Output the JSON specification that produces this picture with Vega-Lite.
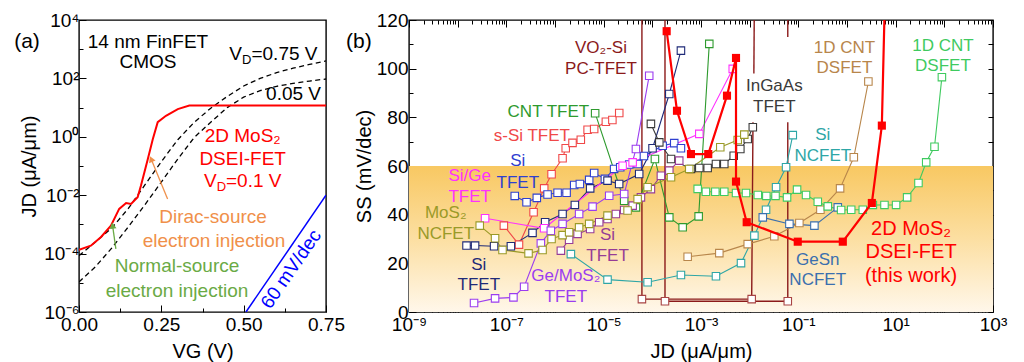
{
 "$schema": "https://vega.github.io/schema/vega-lite/v6.json",
 "background": "white",
 "padding": {"left": 13, "top": 10, "right": 5, "bottom": 5},
 "bounds": "flush",
 "spacing": 83,
 "resolve": {"scale": {"color": "independent"}},
 "config": {
  "font": "Liberation Sans",
  "view": {"stroke": "#000000", "strokeWidth": 1.4},
  "axis": {"domain": false, "grid": false, "tickColor": "#000000", "tickWidth": 1, "labelFont": "Liberation Sans", "labelFontSize": 19, "labelColor": "#000000", "titleFont": "Liberation Sans", "titleFontSize": 20, "titleFontWeight": "normal", "titleColor": "#000000", "labelFlush": false, "labelOverlap": false, "labelBound": false},
  "text": {"font": "Liberation Sans"}
 },
 "datasets": {
  "curvesA": [
   {"c":"DSEI-FET","x":0,"y":1.35e-4},{"c":"DSEI-FET","x":0.036,"y":1.86e-4},{"c":"DSEI-FET","x":0.067,"y":3.7e-4},{"c":"DSEI-FET","x":0.097,"y":9.1e-4},{"c":"DSEI-FET","x":0.122,"y":3.4e-3},{"c":"DSEI-FET","x":0.143,"y":5.4e-3},{"c":"DSEI-FET","x":0.158,"y":5.0e-3},{"c":"DSEI-FET","x":0.178,"y":8.5e-3},{"c":"DSEI-FET","x":0.188,"y":2.1e-2},{"c":"DSEI-FET","x":0.209,"y":0.174},{"c":"DSEI-FET","x":0.224,"y":0.83},{"c":"DSEI-FET","x":0.239,"y":3.16},{"c":"DSEI-FET","x":0.264,"y":5.25},{"c":"DSEI-FET","x":0.30,"y":8.9},{"c":"DSEI-FET","x":0.335,"y":11.7},{"c":"DSEI-FET","x":0.75,"y":11.7},
   {"c":"VD=0.75 V","x":0,"y":8.5e-5},{"c":"VD=0.75 V","x":0.05,"y":2.51e-4},{"c":"VD=0.75 V","x":0.1,"y":7.59e-4},{"c":"VD=0.75 V","x":0.15,"y":3.55e-3},{"c":"VD=0.75 V","x":0.2,"y":2.24e-2},{"c":"VD=0.75 V","x":0.25,"y":0.141},{"c":"VD=0.75 V","x":0.3,"y":0.794},{"c":"VD=0.75 V","x":0.35,"y":3.16},{"c":"VD=0.75 V","x":0.4,"y":9.55},{"c":"VD=0.75 V","x":0.45,"y":24.0},{"c":"VD=0.75 V","x":0.5,"y":55.0},{"c":"VD=0.75 V","x":0.55,"y":100},{"c":"VD=0.75 V","x":0.6,"y":158},{"c":"VD=0.75 V","x":0.65,"y":224},{"c":"VD=0.75 V","x":0.7,"y":302},{"c":"VD=0.75 V","x":0.75,"y":398},
   {"c":"VD=0.05 V","x":0,"y":1.07e-5},{"c":"VD=0.05 V","x":0.05,"y":3.55e-5},{"c":"VD=0.05 V","x":0.1,"y":1.58e-4},{"c":"VD=0.05 V","x":0.15,"y":8.3e-4},{"c":"VD=0.05 V","x":0.2,"y":4.68e-3},{"c":"VD=0.05 V","x":0.25,"y":2.82e-2},{"c":"VD=0.05 V","x":0.3,"y":0.174},{"c":"VD=0.05 V","x":0.35,"y":0.955},{"c":"VD=0.05 V","x":0.4,"y":3.16},{"c":"VD=0.05 V","x":0.45,"y":10},{"c":"VD=0.05 V","x":0.5,"y":22.9},{"c":"VD=0.05 V","x":0.55,"y":38},{"c":"VD=0.05 V","x":0.6,"y":53.7},{"c":"VD=0.05 V","x":0.65,"y":67.6},{"c":"VD=0.05 V","x":0.7,"y":81.3},{"c":"VD=0.05 V","x":0.75,"y":95.5},
   {"c":"60 mV/dec","x":0.507,"y":1e-6},{"c":"60 mV/dec","x":0.75,"y":1e-2}
  ],
  "arrowsA": [
   {"c":"Normal-source","o":1,"x":0.112,"y":1.45e-4},{"c":"Normal-source","o":2,"x":0.102,"y":9.1e-4},
   {"c":"Dirac-source","o":1,"x":0.269,"y":7.4e-3},{"c":"Dirac-source","o":2,"x":0.219,"y":0.174}
  ],
  "textA": [
   {"k":"CMOS","t":"14 nm FinFET","x":0.2095,"y":1778},
   {"k":"CMOS","t":"CMOS","x":0.2095,"y":363},
   {"k":"CMOS","t":"0.05 V","x":0.6514,"y":29.2},
   {"k":"DSEI-FET","t":"2D MoS₂","x":0.497,"y":1.09},
   {"k":"DSEI-FET","t":"DSEI-FET","x":0.497,"y":0.174},
   {"k":"Dirac-source","t":"Dirac-source","x":0.407,"y":1.78e-3},
   {"k":"Dirac-source","t":"electron injection","x":0.41,"y":2.69e-4},
   {"k":"Normal-source","t":"Normal-source","x":0.2976,"y":3.76e-5},
   {"k":"Normal-source","t":"electron injection","x":0.2976,"y":5.25e-6}
  ],
  "textAL": [
   {"k":"CMOS","t":"V","x":0.4565,"y":686},
   {"k":"CMOS","t":"=0.75 V","x":0.5236,"y":686},
   {"k":"DSEI-FET","t":"V","x":0.3793,"y":0.0314},
   {"k":"DSEI-FET","t":"=0.1 V","x":0.4464,"y":0.0314}
  ],
  "textAS": [
   {"k":"CMOS","t":"D","x":0.4951,"y":686},
   {"k":"DSEI-FET","t":"D","x":0.4179,"y":0.0314}
  ],
  "bandB": [{"x":1e-9,"x2":1000,"y":0,"y2":60}],
  "seriesB": [
   {"s":"s-Si TFET","x":8.9e-8,"y":35.5},{"s":"s-Si TFET","x":1.82e-7,"y":27.7},{"s":"s-Si TFET","x":3.63e-7,"y":41.0},{"s":"s-Si TFET","x":6.0e-7,"y":50.8},{"s":"s-Si TFET","x":8.5e-7,"y":56.6},{"s":"s-Si TFET","x":1.43e-6,"y":63.2},{"s":"s-Si TFET","x":1.66e-6,"y":67.3},{"s":"s-Si TFET","x":2.29e-6,"y":69.5},{"s":"s-Si TFET","x":3.39e-6,"y":70.8},{"s":"s-Si TFET","x":4.68e-6,"y":74.9},{"s":"s-Si TFET","x":6.38e-6,"y":75.2},{"s":"s-Si TFET","x":1.11e-5,"y":78.2},{"s":"s-Si TFET","x":1.51e-5,"y":78.9},{"s":"s-Si TFET","x":2.09e-5,"y":81.8},
   {"s":"Si TFET 1","x":1.49e-7,"y":47.7},{"s":"Si TFET 1","x":2.6e-7,"y":45.1},{"s":"Si TFET 1","x":4.23e-7,"y":46.9},{"s":"Si TFET 1","x":7.03e-7,"y":48.3},{"s":"Si TFET 1","x":1.13e-6,"y":49.0},{"s":"Si TFET 1","x":1.73e-6,"y":49.0},{"s":"Si TFET 1","x":2.48e-6,"y":52.2},{"s":"Si TFET 1","x":3.24e-6,"y":52.6},{"s":"Si TFET 1","x":5.04e-6,"y":54.3},{"s":"Si TFET 1","x":6.38e-6,"y":57.1},{"s":"Si TFET 1","x":1.06e-5,"y":54.7},{"s":"Si TFET 1","x":1.64e-5,"y":58.8},{"s":"Si TFET 1","x":2.19e-5,"y":59.5},{"s":"Si TFET 1","x":3.35e-5,"y":60.6},{"s":"Si TFET 1","x":4.99e-5,"y":60.8},{"s":"Si TFET 1","x":6.72e-5,"y":64.1},{"s":"Si TFET 1","x":1.63e-4,"y":68.3},{"s":"Si TFET 1","x":2.82e-4,"y":69.4},{"s":"Si TFET 1","x":3.87e-4,"y":67.3},
   {"s":"Si TFET 2","x":1.52e-8,"y":27.3},{"s":"Si TFET 2","x":2.28e-8,"y":27.3},{"s":"Si TFET 2","x":5.6e-8,"y":27.0},{"s":"Si TFET 2","x":1.24e-7,"y":27.0},{"s":"Si TFET 2","x":3.45e-7,"y":32.5},{"s":"Si TFET 2","x":6.27e-7,"y":36.9},{"s":"Si TFET 2","x":1.43e-6,"y":40.3},{"s":"Si TFET 2","x":2.56e-6,"y":44.0},{"s":"Si TFET 2","x":5.28e-6,"y":50.8},{"s":"Si TFET 2","x":1.2e-5,"y":54.0},{"s":"Si TFET 2","x":2.08e-5,"y":52.6},{"s":"Si TFET 2","x":5.37e-5,"y":56.7},{"s":"Si TFET 2","x":1.01e-4,"y":67.3},{"s":"Si TFET 2","x":2.23e-4,"y":89.6},{"s":"Si TFET 2","x":3.87e-4,"y":107.4},
   {"s":"Si/Ge TFET","x":3.66e-8,"y":38.5},{"s":"Si/Ge TFET","x":5.98e-7,"y":34.4},{"s":"Si/Ge TFET","x":2.45e-5,"y":60.1},{"s":"Si/Ge TFET","x":3.94e-5,"y":61.5},{"s":"Si/Ge TFET","x":9.23e-4,"y":73.2},{"s":"Si/Ge TFET","x":4.49e-3,"y":99.9},
   {"s":"CNT TFET","x":6.68e-6,"y":81.7},{"s":"CNT TFET","x":2.64e-5,"y":45.7},{"s":"CNT TFET","x":4.6e-5,"y":43.0},{"s":"CNT TFET","x":1.13e-4,"y":62.9},{"s":"CNT TFET","x":2.23e-4,"y":38.9},{"s":"CNT TFET","x":4.2e-4,"y":34.8},{"s":"CNT TFET","x":8.95e-4,"y":39.3},{"s":"CNT TFET","x":1.48e-3,"y":110.2},
   {"s":"InGaAs TFET","x":9.35e-5,"y":77.3},{"s":"InGaAs TFET","x":1.39e-4,"y":69.7},{"s":"InGaAs TFET","x":2.42e-4,"y":62.9},{"s":"InGaAs TFET","x":6.22e-4,"y":58.8},{"s":"InGaAs TFET","x":9.23e-4,"y":59.2},{"s":"InGaAs TFET","x":1.37e-3,"y":59.2},{"s":"InGaAs TFET","x":2.03e-3,"y":60.8},{"s":"InGaAs TFET","x":3.01e-3,"y":60.8},{"s":"InGaAs TFET","x":4.7e-3,"y":64.2},{"s":"InGaAs TFET","x":6.43e-3,"y":67.0},{"s":"InGaAs TFET","x":9.12e-3,"y":71.1},{"s":"InGaAs TFET","x":1.16e-2,"y":75.9},
   {"s":"Ge/MoS₂ TFET","x":2.17e-8,"y":3.7},{"s":"Ge/MoS₂ TFET","x":5.87e-8,"y":5.6},{"s":"Ge/MoS₂ TFET","x":1.4e-7,"y":6.0},{"s":"Ge/MoS₂ TFET","x":2.32e-7,"y":10.4},{"s":"Ge/MoS₂ TFET","x":5.12e-7,"y":28.2},{"s":"Ge/MoS₂ TFET","x":8.2e-7,"y":33.4},{"s":"Ge/MoS₂ TFET","x":1.43e-6,"y":36.2},{"s":"Ge/MoS₂ TFET","x":3.13e-6,"y":40.3},{"s":"Ge/MoS₂ TFET","x":5.91e-6,"y":43.3},{"s":"Ge/MoS₂ TFET","x":1.3e-5,"y":47.8},{"s":"Ge/MoS₂ TFET","x":2.64e-5,"y":48.5},{"s":"Ge/MoS₂ TFET","x":4.6e-5,"y":67.0},{"s":"Ge/MoS₂ TFET","x":8.63e-5,"y":97.1},
   {"s":"Si TFET 3","x":1.32e-6,"y":25.2},{"s":"Si TFET 3","x":1.95e-6,"y":29.7},{"s":"Si TFET 3","x":2.91e-6,"y":32.1},{"s":"Si TFET 3","x":5.28e-6,"y":34.1},{"s":"Si TFET 3","x":8.09e-6,"y":36.9},{"s":"Si TFET 3","x":1.2e-5,"y":38.2},{"s":"Si TFET 3","x":1.78e-5,"y":40.3},{"s":"Si TFET 3","x":2.64e-5,"y":41.9},{"s":"Si TFET 3","x":3.94e-5,"y":43.7},{"s":"Si TFET 3","x":5.83e-5,"y":47.1},{"s":"Si TFET 3","x":9.35e-5,"y":50.5},{"s":"Si TFET 3","x":1.5e-4,"y":56.0},{"s":"Si TFET 3","x":2.23e-4,"y":58.1},{"s":"Si TFET 3","x":3.57e-4,"y":62.2},
   {"s":"MoS₂ NCFET","x":2.84e-8,"y":35.5},{"s":"MoS₂ NCFET","x":5.87e-8,"y":30.3},{"s":"MoS₂ NCFET","x":8.34e-8,"y":25.5},{"s":"MoS₂ NCFET","x":2.86e-7,"y":24.1},{"s":"MoS₂ NCFET","x":5.55e-7,"y":25.5},{"s":"MoS₂ NCFET","x":8.49e-7,"y":30.0},{"s":"MoS₂ NCFET","x":1.43e-6,"y":31.6},{"s":"MoS₂ NCFET","x":1.95e-6,"y":32.8},{"s":"MoS₂ NCFET","x":3.13e-6,"y":34.8},{"s":"MoS₂ NCFET","x":5.04e-6,"y":36.2},{"s":"MoS₂ NCFET","x":1.2e-5,"y":39.6},{"s":"MoS₂ NCFET","x":3.1e-5,"y":41.7},{"s":"MoS₂ NCFET","x":4.99e-5,"y":46.4},{"s":"MoS₂ NCFET","x":8.0e-5,"y":51.3},{"s":"MoS₂ NCFET","x":2.42e-4,"y":55.4},{"s":"MoS₂ NCFET","x":5.74e-4,"y":58.8},{"s":"MoS₂ NCFET","x":2.49e-3,"y":67.7},{"s":"MoS₂ NCFET","x":5.68e-3,"y":70.7},{"s":"MoS₂ NCFET","x":7.76e-3,"y":72.9},
   {"s":"Si NCFET","x":2.12e-6,"y":23.8},{"s":"Si NCFET","x":1.2e-5,"y":13.3},{"s":"Si NCFET","x":8.0e-5,"y":12.2},{"s":"Si NCFET","x":3.87e-4,"y":15.2},{"s":"Si NCFET","x":2.03e-3,"y":14.7},{"s":"Si NCFET","x":6.64e-3,"y":20.1},{"s":"Si NCFET","x":1.25e-2,"y":31.4},{"s":"Si NCFET","x":2.17e-2,"y":42.0},{"s":"Si NCFET","x":3.49e-2,"y":51.3},{"s":"Si NCFET","x":5.6e-2,"y":59.5},{"s":"Si NCFET","x":7.69e-2,"y":72.7},
   {"s":"GeSn NCFET","x":1.86e-2,"y":38.9},{"s":"GeSn NCFET","x":6.55e-2,"y":36.2},{"s":"GeSn NCFET","x":0.214,"y":35.5},{"s":"GeSn NCFET","x":0.647,"y":43.0},
   {"s":"1D CNT DSFET 1","x":5.32e-4,"y":22.7},{"s":"1D CNT DSFET 1","x":2.38e-3,"y":24.2},{"s":"1D CNT DSFET 1","x":9.12e-3,"y":27.9},{"s":"1D CNT DSFET 1","x":3.21e-2,"y":31.1},{"s":"1D CNT DSFET 1","x":0.105,"y":36.6},{"s":"1D CNT DSFET 1","x":0.284,"y":42.0},{"s":"1D CNT DSFET 1","x":0.721,"y":50.8},{"s":"1D CNT DSFET 1","x":1.38,"y":63.6},{"s":"1D CNT DSFET 1","x":2.75,"y":94.7},
   {"s":"1D CNT DSFET 2","x":8.55e-4,"y":50.6},{"s":"1D CNT DSFET 2","x":1.26e-3,"y":49.4},{"s":"1D CNT DSFET 2","x":1.97e-3,"y":49.4},{"s":"1D CNT DSFET 2","x":3.01e-3,"y":49.4},{"s":"1D CNT DSFET 2","x":5.25e-3,"y":48.9},{"s":"1D CNT DSFET 2","x":8.41e-3,"y":48.9},{"s":"1D CNT DSFET 2","x":1.47e-2,"y":48.1},{"s":"1D CNT DSFET 2","x":2.2e-2,"y":47.7},{"s":"1D CNT DSFET 2","x":3.4e-2,"y":47.7},{"s":"1D CNT DSFET 2","x":5.86e-2,"y":47.1},{"s":"1D CNT DSFET 2","x":9.42e-2,"y":50.3},{"s":"1D CNT DSFET 2","x":0.144,"y":48.1},{"s":"1D CNT DSFET 2","x":0.251,"y":45.3},{"s":"1D CNT DSFET 2","x":0.403,"y":43.4},{"s":"1D CNT DSFET 2","x":0.757,"y":41.9},{"s":"1D CNT DSFET 2","x":1.22,"y":42.0},{"s":"1D CNT DSFET 2","x":2.11,"y":42.0},{"s":"1D CNT DSFET 2","x":3.4,"y":44.0},{"s":"1D CNT DSFET 2","x":5.89,"y":44.0},{"s":"1D CNT DSFET 2","x":10.2,"y":44.0},{"s":"1D CNT DSFET 2","x":17.2,"y":47.1},{"s":"1D CNT DSFET 2","x":29.4,"y":53.0},{"s":"1D CNT DSFET 2","x":42.4,"y":61.5},{"s":"1D CNT DSFET 2","x":62.8,"y":67.9},{"s":"1D CNT DSFET 2","x":89.1,"y":96.5}
  ],
  "dseiB": [
   {"o":1,"x":1.97e-4,"y":115.4},{"o":2,"x":3.21e-4,"y":82.7},{"o":3,"x":6.22e-4,"y":64.9},{"o":4,"x":1.41e-3,"y":64.9},{"o":5,"x":3.42e-3,"y":88.9},{"o":6,"x":5.24e-3,"y":104.4},{"o":7,"x":5.24e-3,"y":53.6},{"o":8,"x":8.69e-3,"y":36.9},{"o":9,"x":9.73e-2,"y":28.9},{"o":10,"x":0.82,"y":28.9},{"o":11,"x":3.24,"y":44.8},{"o":12,"x":5.2,"y":76.6},{"o":13,"x":6.0,"y":128.6}
  ],
  "vo2B": [
   {"seg":"A1","o":1,"x":6.11e-5,"y":130},{"seg":"A1","o":2,"x":6.11e-5,"y":5.3},{"seg":"A1","o":3,"x":1.1e-2,"y":5.3},{"seg":"A1","o":4,"x":1.17e-2,"y":78},
   {"seg":"A2","o":1,"x":1.22e-2,"y":98},{"seg":"A2","o":2,"x":1.25e-2,"y":130},
   {"seg":"B1","o":1,"x":1.82e-4,"y":130},{"seg":"B1","o":2,"x":1.82e-4,"y":4.4},{"seg":"B1","o":3,"x":6.07e-2,"y":4.4},{"seg":"B1","o":4,"x":6.07e-2,"y":78},
   {"seg":"B2","o":1,"x":6.07e-2,"y":113},{"seg":"B2","o":2,"x":6.07e-2,"y":130}
  ],
  "vo2ptsB": [
   {"x":6.11e-5,"y":5.3},{"x":1.82e-4,"y":4.4},{"x":1.1e-2,"y":5.3},{"x":6.07e-2,"y":4.4}
  ],
  "labelsB": [
   {"s":"VO₂-Si PC-TFET","t":"VO₂-Si","x":8.8e-6,"y":108.3},
   {"s":"VO₂-Si PC-TFET","t":"PC-TFET","x":8.8e-6,"y":99.8},
   {"s":"CNT TFET","t":"CNT TFET","x":7.3e-7,"y":82.2},
   {"s":"s-Si TFET","t":"s-Si TFET","x":3.34e-7,"y":72.3},
   {"s":"Si TFET 1","t":"Si","x":1.72e-7,"y":61.9},
   {"s":"Si TFET 1","t":"TFET","x":1.72e-7,"y":53.2},
   {"s":"Si/Ge TFET","t":"Si/Ge","x":1.77e-8,"y":55.8},
   {"s":"Si/Ge TFET","t":"TFET","x":1.77e-8,"y":47.4},
   {"s":"MoS₂ NCFET","t":"MoS₂","x":5.68e-9,"y":40.5},
   {"s":"MoS₂ NCFET","t":"NCFET","x":5.68e-9,"y":31.9},
   {"s":"Si TFET 2","t":"Si","x":2.72e-8,"y":19.4},
   {"s":"Si TFET 2","t":"TFET","x":2.72e-8,"y":11.0},
   {"s":"Ge/MoS₂ TFET","t":"Ge/MoS₂","x":1.67e-6,"y":14.9},
   {"s":"Ge/MoS₂ TFET","t":"TFET","x":1.67e-6,"y":6.0},
   {"s":"Si TFET 3","t":"Si","x":1.2e-5,"y":31.6},
   {"s":"Si TFET 3","t":"TFET","x":1.2e-5,"y":22.9},
   {"s":"InGaAs TFET","t":"InGaAs","x":3.21e-2,"y":92.8},
   {"s":"InGaAs TFET","t":"TFET","x":3.21e-2,"y":84.4},
   {"s":"1D CNT DSFET 1","t":"1D CNT","x":0.885,"y":108.5},
   {"s":"1D CNT DSFET 1","t":"DSFET","x":0.885,"y":100.2},
   {"s":"1D CNT DSFET 2","t":"1D CNT","x":93.5,"y":109.2},
   {"s":"1D CNT DSFET 2","t":"DSFET","x":93.5,"y":100.9},
   {"s":"Si NCFET","t":"Si","x":0.318,"y":72.6},
   {"s":"Si NCFET","t":"NCFET","x":0.318,"y":64.1},
   {"s":"GeSn NCFET","t":"GeSn","x":0.25,"y":21.5},
   {"s":"GeSn NCFET","t":"NCFET","x":0.25,"y":13.3}
  ],
  "labelsB2": [
   {"t":"2D MoS₂","x":20.7,"y":34.1},
   {"t":"DSEI-FET","x":20.7,"y":24.5},
   {"t":"(this work)","x":20.7,"y":14.9}
  ]
 },
 "hconcat": [
  {
   "width": 247, "height": 292,
   "resolve": {"axis": {"x": "independent", "y": "independent"}},
   "layer": [
    {"data": {"name": "curvesA"}, "transform": [{"filter": "datum.c == 'VD=0.75 V' || datum.c == 'VD=0.05 V'"}],
     "mark": {"type": "line", "clip": true, "color": "#000000", "strokeWidth": 1.3, "strokeDash": [5, 3.5]},
     "encoding": {
      "x": {"field": "x", "type": "quantitative", "scale": {"domain": [0, 0.75], "nice": false, "zero": false},
        "axis": {"title": "VG (V)", "values": [0, 0.125, 0.25, 0.375, 0.5, 0.625, 0.75],
          "labelExpr": "abs(datum.value*4 - round(datum.value*4)) < 0.001 ? format(datum.value, '.2f') : ''",
          "tickSize": {"condition": {"test": "abs(datum.value*4 - round(datum.value*4)) < 0.001", "value": -7}, "value": -4},
          "labelPadding": 10, "titlePadding": 4}},
      "y": {"field": "y", "type": "quantitative", "scale": {"type": "log", "domain": [1e-6, 10000], "nice": false},
        "axis": {"title": "JD (μA/μm)", "values": [1e-6, 1e-5, 1e-4, 1e-3, 0.01, 0.1, 1, 10, 100, 1000, 10000],
          "labelExpr": "abs(round(log(datum.value)/LN10)) % 2 == 0 ? '10' + replace(replace(replace(replace(replace('' + round(log(datum.value)/LN10), '-', '⁻'), '0', '⁰'), '2', '²'), '4', '⁴'), '6', '⁶') : ''",
          "tickSize": {"condition": {"test": "abs(round(log(datum.value)/LN10)) % 2 == 0", "value": -7}, "value": -4},
          "labelPadding": 7, "titlePadding": 4}},
      "detail": {"field": "c"}
     }},
    {"data": {"name": "curvesA"}, "transform": [{"filter": "datum.c == 'DSEI-FET'"}],
     "mark": {"type": "line", "clip": true, "color": "#ff0000", "strokeWidth": 2},
     "encoding": {
      "x": {"field": "x", "type": "quantitative", "scale": {"domain": [0, 0.75], "nice": false, "zero": false}, "axis": null},
      "y": {"field": "y", "type": "quantitative", "scale": {"type": "log", "domain": [1e-6, 10000], "nice": false}, "axis": null}
     }},
    {"data": {"name": "curvesA"}, "transform": [{"filter": "datum.c == '60 mV/dec'"}],
     "mark": {"type": "line", "clip": true, "color": "#0000ff", "strokeWidth": 1.5},
     "encoding": {
      "x": {"field": "x", "type": "quantitative", "scale": {"domain": [0, 0.75], "nice": false, "zero": false}, "axis": null},
      "y": {"field": "y", "type": "quantitative", "scale": {"type": "log", "domain": [1e-6, 10000], "nice": false}, "axis": null}
     }},
    {"data": {"name": "arrowsA"},
     "mark": {"type": "line", "strokeWidth": 1.3},
     "encoding": {
      "x": {"field": "x", "type": "quantitative", "scale": {"domain": [0, 0.75], "nice": false, "zero": false}, "axis": null},
      "y": {"field": "y", "type": "quantitative", "scale": {"type": "log", "domain": [1e-6, 10000], "nice": false}, "axis": null},
      "order": {"field": "o", "type": "quantitative"},
      "color": {"field": "c", "type": "nominal", "legend": null, "scale": {"domain": ["CMOS", "DSEI-FET", "Dirac-source", "Normal-source", "60 mV/dec"], "range": ["#000000", "#ff0000", "#f0904a", "#6aaa45", "#0000ff"]}}
     }},
    {"data": {"name": "arrowsA"}, "transform": [{"filter": "datum.o == 2 && datum.c == 'Normal-source'"}],
     "mark": {"type": "point", "shape": "triangle-up", "filled": true, "opacity": 1, "size": 50, "angle": 352, "color": "#6aaa45"},
     "encoding": {
      "x": {"field": "x", "type": "quantitative", "scale": {"domain": [0, 0.75], "nice": false, "zero": false}, "axis": null},
      "y": {"field": "y", "type": "quantitative", "scale": {"type": "log", "domain": [1e-6, 10000], "nice": false}, "axis": null}
     }},
    {"data": {"name": "arrowsA"}, "transform": [{"filter": "datum.o == 2 && datum.c == 'Dirac-source'"}],
     "mark": {"type": "point", "shape": "triangle-up", "filled": true, "opacity": 1, "size": 50, "angle": 337, "color": "#f0904a"},
     "encoding": {
      "x": {"field": "x", "type": "quantitative", "scale": {"domain": [0, 0.75], "nice": false, "zero": false}, "axis": null},
      "y": {"field": "y", "type": "quantitative", "scale": {"type": "log", "domain": [1e-6, 10000], "nice": false}, "axis": null}
     }},
    {"data": {"name": "textA"},
     "mark": {"type": "text", "align": "center", "baseline": "middle", "fontSize": 19, "font": "Liberation Sans"},
     "encoding": {
      "x": {"field": "x", "type": "quantitative", "scale": {"domain": [0, 0.75], "nice": false, "zero": false}, "axis": null},
      "y": {"field": "y", "type": "quantitative", "scale": {"type": "log", "domain": [1e-6, 10000], "nice": false}, "axis": null},
      "text": {"field": "t"},
      "color": {"field": "k", "type": "nominal", "legend": null, "scale": {"domain": ["CMOS", "DSEI-FET", "Dirac-source", "Normal-source", "60 mV/dec"], "range": ["#000000", "#ff0000", "#f0904a", "#6aaa45", "#0000ff"]}}
     }},
    {"data": {"name": "textAL"},
     "mark": {"type": "text", "align": "left", "baseline": "middle", "fontSize": 19, "font": "Liberation Sans"},
     "encoding": {
      "x": {"field": "x", "type": "quantitative", "scale": {"domain": [0, 0.75], "nice": false, "zero": false}, "axis": null},
      "y": {"field": "y", "type": "quantitative", "scale": {"type": "log", "domain": [1e-6, 10000], "nice": false}, "axis": null},
      "text": {"field": "t"},
      "color": {"field": "k", "type": "nominal", "legend": null, "scale": {"domain": ["CMOS", "DSEI-FET", "Dirac-source", "Normal-source", "60 mV/dec"], "range": ["#000000", "#ff0000", "#f0904a", "#6aaa45", "#0000ff"]}}
     }},
    {"data": {"name": "textAS"},
     "mark": {"type": "text", "align": "left", "baseline": "middle", "fontSize": 13, "dy": 6, "font": "Liberation Sans"},
     "encoding": {
      "x": {"field": "x", "type": "quantitative", "scale": {"domain": [0, 0.75], "nice": false, "zero": false}, "axis": null},
      "y": {"field": "y", "type": "quantitative", "scale": {"type": "log", "domain": [1e-6, 10000], "nice": false}, "axis": null},
      "text": {"field": "t"},
      "color": {"field": "k", "type": "nominal", "legend": null, "scale": {"domain": ["CMOS", "DSEI-FET", "Dirac-source", "Normal-source", "60 mV/dec"], "range": ["#000000", "#ff0000", "#f0904a", "#6aaa45", "#0000ff"]}}
     }},
    {"data": {"values": [{"t": "60 mV/dec", "x": 0.644, "y": 2.95e-5}]},
     "mark": {"type": "text", "align": "center", "baseline": "middle", "fontSize": 19, "angle": 304.5, "color": "#0000ff", "font": "Liberation Sans"},
     "encoding": {
      "x": {"field": "x", "type": "quantitative", "scale": {"domain": [0, 0.75], "nice": false, "zero": false}, "axis": null},
      "y": {"field": "y", "type": "quantitative", "scale": {"type": "log", "domain": [1e-6, 10000], "nice": false}, "axis": null},
      "text": {"field": "t"}
     }},
    {"data": {"values": [{"t": "(a)", "x": -0.158, "y": 1778}]},
     "mark": {"type": "text", "align": "center", "baseline": "middle", "fontSize": 21, "color": "#000000", "font": "Liberation Sans"},
     "encoding": {
      "x": {"field": "x", "type": "quantitative", "scale": {"domain": [0, 0.75], "nice": false, "zero": false}, "axis": null},
      "y": {"field": "y", "type": "quantitative", "scale": {"type": "log", "domain": [1e-6, 10000], "nice": false}, "axis": null},
      "text": {"field": "t"}
     }}
   ]
  },
  {
   "width": 584, "height": 292,
   "resolve": {"axis": {"x": "independent", "y": "independent"}},
   "layer": [
    {"data": {"name": "bandB"},
     "mark": {"type": "rect", "fill": {"gradient": "linear", "x1": 0, "y1": 0, "x2": 0, "y2": 1, "stops": [{"offset": 0, "color": "#f8c862"}, {"offset": 0.5, "color": "#fcdfa2"}, {"offset": 1, "color": "#fff7ea"}]}},
     "encoding": {
      "x": {"field": "x", "type": "quantitative", "scale": {"type": "log", "domain": [1e-9, 1000], "nice": false},
        "axis": {"orient": "top", "title": null, "labels": false, "tickCount": 120,
          "tickSize": {"condition": {"test": "abs(log(datum.value)/LN10 - round(log(datum.value)/LN10)) < 0.000001", "value": -7}, "value": -4}}},
      "x2": {"field": "x2"},
      "y": {"field": "y", "type": "quantitative", "scale": {"domain": [0, 120], "nice": false, "zero": false},
        "axis": {"orient": "right", "title": null, "labels": false, "values": [0, 10, 20, 30, 40, 50, 60, 70, 80, 90, 100, 110, 120], "tickSize": -5}},
      "y2": {"field": "y2"}
     }},
    {"data": {"name": "vo2B"},
     "mark": {"type": "line", "clip": true, "color": "#8b1a1a", "strokeWidth": 1.4},
     "encoding": {
      "x": {"field": "x", "type": "quantitative", "scale": {"type": "log", "domain": [1e-9, 1000], "nice": false}, "axis": null},
      "y": {"field": "y", "type": "quantitative", "scale": {"domain": [0, 120], "nice": false, "zero": false}, "axis": null},
      "detail": {"field": "seg"},
      "order": {"field": "o", "type": "quantitative"}
     }},
    {"data": {"name": "seriesB"},
     "mark": {"type": "line", "clip": true, "strokeWidth": 1.1},
     "encoding": {
      "x": {"field": "x", "type": "quantitative", "scale": {"type": "log", "domain": [1e-9, 1000], "nice": false},
        "axis": {"title": "JD (μA/μm)", "tickCount": 120,
          "labelExpr": "abs(log(datum.value)/LN10 - round(log(datum.value)/LN10)) < 0.000001 && abs(round(log(datum.value)/LN10)) % 2 == 1 ? '10' + replace(replace(replace(replace(replace(replace('' + round(log(datum.value)/LN10), '-', '⁻'), '1', '¹'), '3', '³'), '5', '⁵'), '7', '⁷'), '9', '⁹') : ''",
          "tickSize": {"condition": {"test": "abs(log(datum.value)/LN10 - round(log(datum.value)/LN10)) < 0.000001", "value": -7}, "value": -4},
          "labelPadding": 10, "titlePadding": 4}},
      "y": {"field": "y", "type": "quantitative", "scale": {"domain": [0, 120], "nice": false, "zero": false},
        "axis": {"title": "SS (mV/dec)", "values": [0, 10, 20, 30, 40, 50, 60, 70, 80, 90, 100, 110, 120],
          "labelExpr": "datum.value % 20 == 0 ? datum.label : ''",
          "tickSize": {"condition": {"test": "datum.value % 20 == 0", "value": -7}, "value": -4},
          "labelPadding": 8, "titlePadding": 2}},
      "color": {"field": "s", "type": "nominal", "legend": null, "scale": {"domain": ["s-Si TFET", "Si TFET 1", "Si TFET 2", "Si/Ge TFET", "CNT TFET", "InGaAs TFET", "Ge/MoS₂ TFET", "Si TFET 3", "MoS₂ NCFET", "Si NCFET", "GeSn NCFET", "1D CNT DSFET 1", "1D CNT DSFET 2", "VO₂-Si PC-TFET"], "range": ["#f04848", "#2f40d0", "#1f2a78", "#ff30ff", "#2e9a2e", "#3a3a3a", "#9b3cf0", "#963c96", "#9a9a28", "#2ea6a6", "#3b6fae", "#b8864b", "#3fca5f", "#8b1a1a"]}}
     }},
    {"data": {"name": "seriesB"},
     "mark": {"type": "point", "shape": "square", "clip": true, "fill": "#ffffff", "opacity": 1, "size": 56, "strokeWidth": 1.1},
     "encoding": {
      "x": {"field": "x", "type": "quantitative", "scale": {"type": "log", "domain": [1e-9, 1000], "nice": false}, "axis": null},
      "y": {"field": "y", "type": "quantitative", "scale": {"domain": [0, 120], "nice": false, "zero": false}, "axis": null},
      "color": {"field": "s", "type": "nominal", "legend": null, "scale": {"domain": ["s-Si TFET", "Si TFET 1", "Si TFET 2", "Si/Ge TFET", "CNT TFET", "InGaAs TFET", "Ge/MoS₂ TFET", "Si TFET 3", "MoS₂ NCFET", "Si NCFET", "GeSn NCFET", "1D CNT DSFET 1", "1D CNT DSFET 2", "VO₂-Si PC-TFET"], "range": ["#f04848", "#2f40d0", "#1f2a78", "#ff30ff", "#2e9a2e", "#3a3a3a", "#9b3cf0", "#963c96", "#9a9a28", "#2ea6a6", "#3b6fae", "#b8864b", "#3fca5f", "#8b1a1a"]}}
     }},
    {"data": {"name": "vo2ptsB"},
     "mark": {"type": "point", "shape": "square", "clip": true, "fill": "#ffffff", "stroke": "#a84444", "opacity": 1, "size": 56, "strokeWidth": 1.1},
     "encoding": {
      "x": {"field": "x", "type": "quantitative", "scale": {"type": "log", "domain": [1e-9, 1000], "nice": false}, "axis": null},
      "y": {"field": "y", "type": "quantitative", "scale": {"domain": [0, 120], "nice": false, "zero": false}, "axis": null}
     }},
    {"data": {"name": "dseiB"},
     "mark": {"type": "line", "clip": true, "color": "#ff0000", "strokeWidth": 2.2},
     "encoding": {
      "x": {"field": "x", "type": "quantitative", "scale": {"type": "log", "domain": [1e-9, 1000], "nice": false}, "axis": null},
      "y": {"field": "y", "type": "quantitative", "scale": {"domain": [0, 120], "nice": false, "zero": false}, "axis": null},
      "order": {"field": "o", "type": "quantitative"}
     }},
    {"data": {"name": "dseiB"},
     "mark": {"type": "point", "shape": "square", "clip": true, "filled": true, "color": "#ff0000", "opacity": 1, "size": 66},
     "encoding": {
      "x": {"field": "x", "type": "quantitative", "scale": {"type": "log", "domain": [1e-9, 1000], "nice": false}, "axis": null},
      "y": {"field": "y", "type": "quantitative", "scale": {"domain": [0, 120], "nice": false, "zero": false}, "axis": null}
     }},
    {"data": {"name": "labelsB"},
     "mark": {"type": "text", "align": "center", "baseline": "middle", "fontSize": 17, "font": "Liberation Sans"},
     "encoding": {
      "x": {"field": "x", "type": "quantitative", "scale": {"type": "log", "domain": [1e-9, 1000], "nice": false}, "axis": null},
      "y": {"field": "y", "type": "quantitative", "scale": {"domain": [0, 120], "nice": false, "zero": false}, "axis": null},
      "text": {"field": "t"},
      "color": {"field": "s", "type": "nominal", "legend": null, "scale": {"domain": ["s-Si TFET", "Si TFET 1", "Si TFET 2", "Si/Ge TFET", "CNT TFET", "InGaAs TFET", "Ge/MoS₂ TFET", "Si TFET 3", "MoS₂ NCFET", "Si NCFET", "GeSn NCFET", "1D CNT DSFET 1", "1D CNT DSFET 2", "VO₂-Si PC-TFET"], "range": ["#f04848", "#2f40d0", "#1f2a78", "#ff30ff", "#2e9a2e", "#3a3a3a", "#9b3cf0", "#963c96", "#9a9a28", "#2ea6a6", "#3b6fae", "#b8864b", "#3fca5f", "#8b1a1a"]}}
     }},
    {"data": {"name": "labelsB2"},
     "mark": {"type": "text", "align": "center", "baseline": "middle", "fontSize": 20, "color": "#ff0000", "font": "Liberation Sans"},
     "encoding": {
      "x": {"field": "x", "type": "quantitative", "scale": {"type": "log", "domain": [1e-9, 1000], "nice": false}, "axis": null},
      "y": {"field": "y", "type": "quantitative", "scale": {"domain": [0, 120], "nice": false, "zero": false}, "axis": null},
      "text": {"field": "t"}
     }},
    {"data": {"values": [{"t": "(b)", "x": 9.3e-11, "y": 111}]},
     "mark": {"type": "text", "align": "center", "baseline": "middle", "fontSize": 21, "color": "#000000", "font": "Liberation Sans"},
     "encoding": {
      "x": {"field": "x", "type": "quantitative", "scale": {"type": "log", "domain": [1e-9, 1000], "nice": false}, "axis": null},
      "y": {"field": "y", "type": "quantitative", "scale": {"domain": [0, 120], "nice": false, "zero": false}, "axis": null},
      "text": {"field": "t"}
     }}
   ]
  }
 ]
}
